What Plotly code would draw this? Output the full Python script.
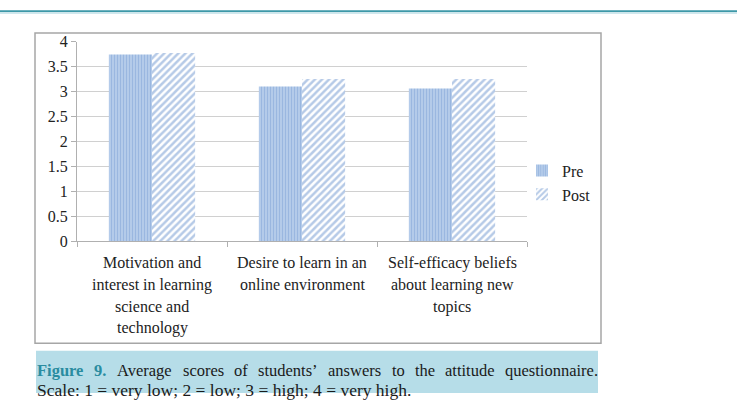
import plotly.graph_objects as go

# ---- data ----
categories = ["Motivation", "Desire", "Self-efficacy"]
category_lines = [
    ["Motivation and", "interest in learning", "science and", "technology"],
    ["Desire to learn in an", "online environment"],
    ["Self-efficacy beliefs", "about learning new", "topics"],
]
pre = [3.74, 3.10, 3.06]
post = [3.77, 3.25, 3.25]
y_ticks = [0, 0.5, 1, 1.5, 2, 2.5, 3, 3.5, 4]
y_tick_labels = ["0", "0.5", "1", "1.5", "2", "2.5", "3", "3.5", "4"]

W, H = 737, 402
FONT = "Liberation Serif, Times New Roman, serif"

def px(x):
    return x / W

def py(y):
    return 1 - y / H

fig = go.Figure()
fig.add_trace(go.Bar(
    x=categories, y=pre, name="Pre", legendgroup="a",
    marker=dict(color="#c6d8f0", line=dict(width=0),
                pattern=dict(shape="|", size=3, solidity=0.6,
                             fgcolor="#6d95cf", bgcolor="#c6d8f0")),
))
fig.add_trace(go.Bar(
    x=categories, y=post, name="Post", legendgroup="b",
    marker=dict(color="white", line=dict(width=0),
                pattern=dict(shape="/", size=5, solidity=0.5,
                             fgcolor="#6d95cf", bgcolor="white")),
))

annotations = []
line_y = [266, 289, 312, 334]
for cat, lines in zip(categories, category_lines):
    for i, t in enumerate(lines):
        annotations.append(dict(x=cat, xref="x", y=py(line_y[i]), yref="paper",
                                text=t, showarrow=False, xanchor="center", yanchor="middle",
                                font=dict(family=FONT, size=16, color="#222")))

# caption line 1 (justified words)
CAP1 = 16.5
CAP2 = 17.5
words = [("Figure", 37), ("9.", 94), ("Average", 116.7), ("scores", 182.9), ("of", 234.4),
         ("students’", 258.4), ("answers", 328.3), ("to", 391.7), ("the", 414.8),
         ("attitude", 445.3), ("questionnaire.", 505.1)]
for i, (w, x) in enumerate(words):
    color = "#2a8ca0" if i < 2 else "#1a1a1a"
    txt = "<b>%s</b>" % w if i < 2 else w
    annotations.append(dict(x=px(x - 1), xref="paper", y=py(379), yref="paper", text=txt,
                            showarrow=False, xanchor="left", yanchor="middle", borderpad=0,
                            font=dict(family=FONT, size=CAP1, color=color)))
annotations.append(dict(x=px(36), xref="paper", y=py(399), yref="paper",
                        text="Scale: 1 = very low; 2 = low; 3 = high; 4 = very high.",
                        showarrow=False, xanchor="left", yanchor="middle", borderpad=0,
                        font=dict(family=FONT, size=CAP2, color="#1a1a1a")))

shapes = [
    dict(type="line", xref="paper", yref="paper", x0=0, x1=1, y0=py(3.5), y1=py(3.5),
         line=dict(color="#3d98a8", width=2)),
    dict(type="line", xref="paper", yref="paper", x0=0, x1=1, y0=py(5.5), y1=py(5.5),
         line=dict(color="#cfe8ee", width=1.5)),
    dict(type="rect", xref="paper", yref="paper", x0=px(35), x1=px(601), y0=py(26), y1=py(350),
         line=dict(color="#a6a6a6", width=1.5), fillcolor="rgba(0,0,0,0)", layer="below"),
    dict(type="rect", xref="paper", yref="paper", x0=px(36), x1=px(598), y0=py(358), y1=py(402),
         line=dict(width=0), fillcolor="#b6dde8", layer="below"),
]

fig.update_layout(
    width=W, height=H,
    margin=dict(l=0, r=0, t=0, b=0),
    paper_bgcolor="white", plot_bgcolor="white",
    barmode="group", bargap=0.425, bargroupgap=0,
    font=dict(family=FONT, size=15, color="#222"),
    xaxis=dict(domain=[px(77), px(527)], showticklabels=False, showline=True,
               linecolor="#b0b0b0", linewidth=1, ticks="outside", tickson="boundaries",
               ticklen=5, tickcolor="#b0b0b0", showgrid=False, zeroline=False),
    yaxis=dict(domain=[py(243.3), py(35)], range=[0, 4], tickvals=y_ticks,
               ticktext=y_tick_labels, showline=True, linecolor="#b0b0b0", linewidth=1,
               ticks="outside", ticklen=5, tickcolor="#b0b0b0", showgrid=True,
               gridcolor="#d0d0d0", gridwidth=1, zeroline=False,
               tickfont=dict(family=FONT, size=16, color="#222")),
    legend=dict(x=px(522), y=py(152), xanchor="left", yanchor="top",
                font=dict(family=FONT, size=16, color="#222"),
                tracegroupgap=0, traceorder="grouped", bgcolor="rgba(0,0,0,0)"),
    annotations=annotations,
    shapes=shapes,
)

fig.write_html("out.html")
